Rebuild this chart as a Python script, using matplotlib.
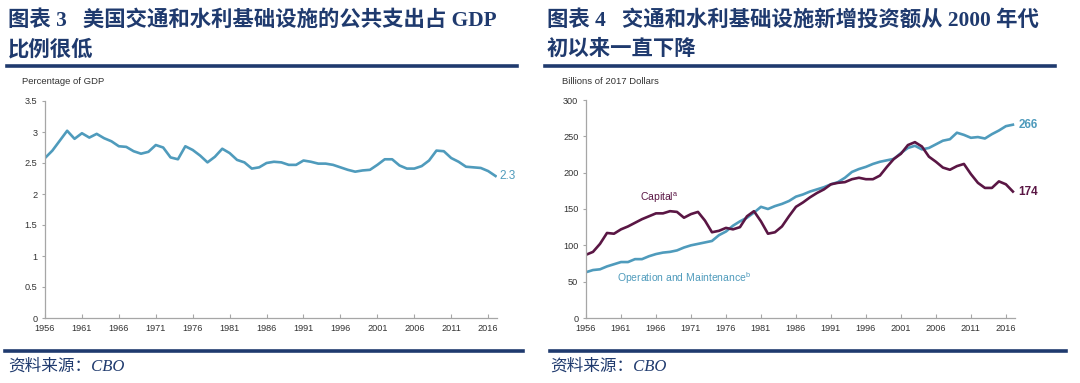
import matplotlib
matplotlib.use("Agg")
import matplotlib.pyplot as plt
import numpy as np
from matplotlib.lines import Line2D

plt.rcParams["font.family"] = ["Liberation Sans", "Noto Sans CJK SC", "DejaVu Sans"]
plt.rcParams["mathtext.fontset"] = "custom"
plt.rcParams["mathtext.rm"] = "Liberation Sans"

W, H = 1080, 383

# ---- data ----
years = np.arange(1956, 2018)

gdp_share = [
    2.58, 2.70, 2.86, 3.02, 2.89, 2.98, 2.91, 2.97, 2.90, 2.85,
    2.77, 2.76, 2.69, 2.65, 2.68, 2.79, 2.75, 2.59, 2.56, 2.77,
    2.71, 2.62, 2.51, 2.60, 2.73, 2.66, 2.55, 2.51, 2.41, 2.43,
    2.50, 2.52, 2.51, 2.47, 2.47, 2.54, 2.52, 2.49, 2.49, 2.47,
    2.43, 2.39, 2.36, 2.38, 2.39, 2.47, 2.56, 2.56, 2.46, 2.41,
    2.41, 2.45, 2.54, 2.70, 2.69, 2.58, 2.52, 2.44, 2.43, 2.42,
    2.37, 2.29,
]

capital = [
    87, 91, 102, 117, 116, 122, 126, 131, 136, 140,
    144, 144, 147, 146, 138, 143, 146, 134, 118, 120,
    124, 122, 125, 140, 147, 133, 116, 118, 126, 140,
    153, 159, 166, 172, 177, 184, 186, 187, 191, 193,
    191, 191, 196, 208, 219, 226, 238, 242, 236, 222,
    215, 207, 204, 209, 212, 198, 186, 179, 179, 188,
    184, 174,
]

operation_maint = [
    63, 66, 67, 71, 74, 77, 77, 81, 81, 85,
    88, 90, 91, 93, 97, 100, 102, 104, 106, 114,
    119, 127, 133, 138, 145, 153, 150, 154, 157, 161,
    167, 170, 174, 177, 180, 184, 187, 193, 201, 205,
    208, 212, 215, 217, 219, 227, 234, 237, 232, 234,
    239, 244, 246, 255, 252, 248, 249, 247, 253, 258,
    264, 266,
]

x_ticks = [1956, 1961, 1966, 1971, 1976, 1981, 1986, 1991, 1996, 2001, 2006, 2011, 2016]
left_yticks = [0, 0.5, 1, 1.5, 2, 2.5, 3, 3.5]
right_yticks = [0, 50, 100, 150, 200, 250, 300]

BLUE = "#4f9bbc"
PLUM = "#5a1644"
NAVY = "#1f3a6e"
AXIS = "#a6a6a6"
TICKTXT = "#333333"


def fx(x):
    return x / W


def fy(y):
    return 1 - y / H


fig = plt.figure(figsize=(W / 100, H / 100), dpi=100)

# titles
title_font = ["Liberation Serif", "Noto Sans CJK SC"]
TS = 15.4
fig.text(fx(8), fy(20), "图表 3   美国交通和水利基础设施的公共支出占 GDP", fontsize=TS,
         fontweight="bold", color=NAVY, family=title_font, va="center")
fig.text(fx(8), fy(50), "比例很低", fontsize=TS, fontweight="bold", color=NAVY,
         family=title_font, va="center")
fig.text(fx(547), fy(20), "图表 4   交通和水利基础设施新增投资额从 2000 年代", fontsize=TS,
         fontweight="bold", color=NAVY, family=title_font, va="center")
fig.text(fx(547), fy(50), "初以来一直下降", fontsize=TS, fontweight="bold", color=NAVY,
         family=title_font, va="center")

# rules
for x0, x1 in [(7, 517), (545, 1055)]:
    fig.add_artist(Line2D([fx(x0), fx(x1)], [fy(66), fy(66)], color=NAVY, lw=2.6))
for x0, x1 in [(5, 523), (550, 1066)]:
    fig.add_artist(Line2D([fx(x0), fx(x1)], [fy(351), fy(351)], color=NAVY, lw=2.6))

# source notes
src_font = ["Liberation Serif", "Noto Sans CJK SC"]
fig.text(fx(8), fy(367), "资料来源：CBO", fontsize=12, style="italic", color=NAVY,
         family=src_font, va="center")
fig.text(fx(550), fy(367), "资料来源：CBO", fontsize=12, style="italic", color=NAVY,
         family=src_font, va="center")


def style_axis(ax, yticks, fmt):
    for s in ("top", "right"):
        ax.spines[s].set_visible(False)
    for s in ("left", "bottom"):
        ax.spines[s].set_color(AXIS)
        ax.spines[s].set_linewidth(0.9)
    ax.set_xticks(x_ticks)
    ax.set_xticklabels([str(t) for t in x_ticks])
    ax.set_yticks(yticks)
    ax.set_yticklabels([fmt(t) for t in yticks])
    ax.tick_params(axis="x", direction="in", length=3, color=AXIS, labelsize=6.6,
                   labelcolor=TICKTXT, pad=4)
    ax.tick_params(axis="y", direction="out", length=2.5, color=AXIS, labelsize=6.6,
                   labelcolor=TICKTXT, pad=3)
    ax.patch.set_alpha(0)


# left chart
ax1 = fig.add_axes([fx(45), fy(318), fx(497) - fx(45), fy(101) - fy(318)])
ax1.plot(years, gdp_share, color=BLUE, lw=1.9, solid_joinstyle="round")
ax1.set_xlim(1956, 2017.2)
ax1.set_ylim(0, 3.5)
style_axis(ax1, left_yticks, lambda v: f"{v:g}")
ax1.annotate("2.3", (years[-1], gdp_share[-1]), xytext=(3, 0), textcoords="offset points",
             color=BLUE, fontsize=8.5, va="center")
fig.text(fx(22), fy(82), "Percentage of GDP", fontsize=6.8, color=TICKTXT, va="center")

# right chart
ax2 = fig.add_axes([fx(586), fy(318), fx(1015) - fx(586), fy(100) - fy(318)])
ax2.plot(years, operation_maint, color=BLUE, lw=1.9, solid_joinstyle="round")
ax2.plot(years, capital, color=PLUM, lw=1.9, solid_joinstyle="round")
ax2.set_xlim(1956, 2017.3)
ax2.set_ylim(0, 300)
style_axis(ax2, right_yticks, lambda v: f"{v:g}")
ax2.annotate("266", (years[-1], operation_maint[-1]), xytext=(4, 0), textcoords="offset points",
             color=BLUE, fontsize=8.5, fontweight="bold", va="center")
ax2.annotate("174", (years[-1], capital[-1]), xytext=(4, 0), textcoords="offset points",
             color=PLUM, fontsize=8.5, fontweight="bold", va="center")
ax2.text(1963.7, 165, r"Capital$^{\mathrm{a}}$", color=PLUM, fontsize=7.5, va="center")
ax2.text(1960.5, 55, r"Operation and Maintenance$^{\mathrm{b}}$", color=BLUE, fontsize=7.5,
         va="center")
fig.text(fx(562), fy(82), "Billions of 2017 Dollars", fontsize=6.8, color=TICKTXT, va="center")

fig.savefig("out.png", dpi=100)
